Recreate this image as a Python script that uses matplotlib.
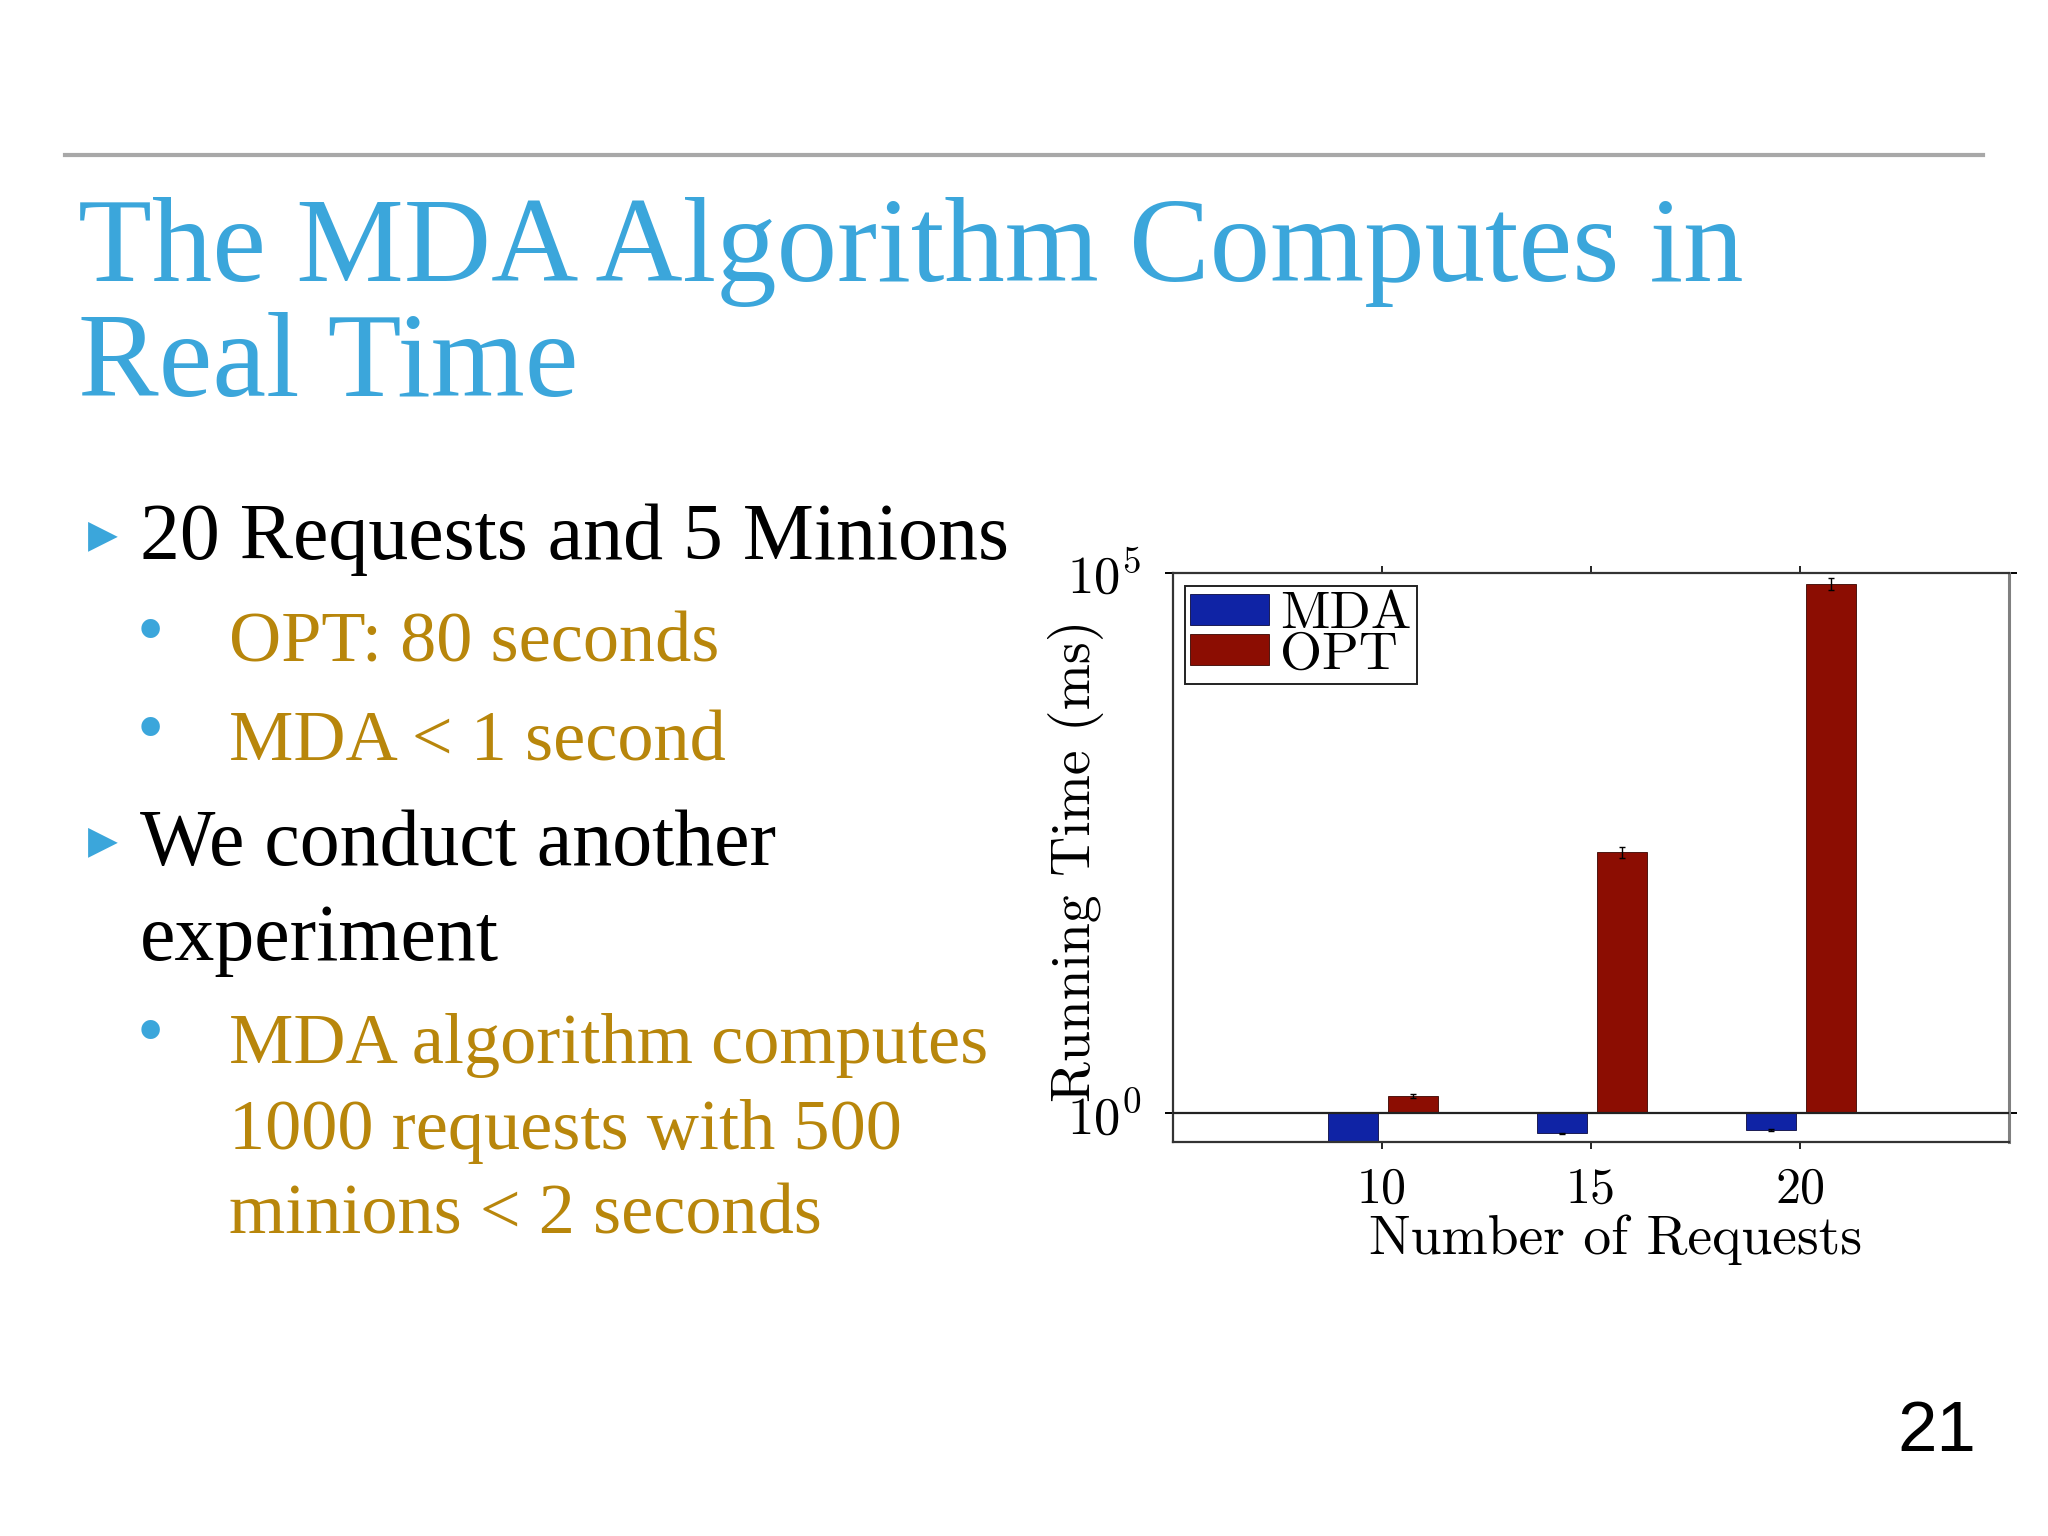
import numpy as np
import matplotlib
matplotlib.use("Agg")
import matplotlib.pyplot as plt
from matplotlib.lines import Line2D
from matplotlib.ticker import FixedLocator, NullLocator, FuncFormatter


# chart data (running time in ms)
requests = [10, 15, 20]
mda_time = [0.5, 0.65, 0.70]
mda_err = [0.0, 0.01, 0.01]
opt_time = [1.44, 261, 79000]
opt_err = [0.05, 29, 10000]
series_names = ["MDA", "OPT"]

# slide text
title_lines = ["The MDA Algorithm Computes in", "Real Time"]
bullets = [
    # (level, text, baseline y in px)
    (1, "20 Requests and 5 Minions", 559),
    (2, "OPT: 80 seconds", 662),
    (2, "MDA < 1 second", 760),
    (1, "We conduct another", 865),
    (0, "experiment", 960),
    (2, "MDA algorithm computes", 1063),
    (-1, "1000 requests with 500", 1149),
    (-1, "minions < 2 seconds", 1234),
]
page_number = "21"

W, H = 2048, 1536
BLUE = "#3BA6DB"
GOLD = "#B8860B"


def fx(px):
    return px / W


def fy(py):
    return 1 - py / H


plt.rcParams["mathtext.fontset"] = "cm"
plt.rcParams["axes.unicode_minus"] = False

fig = plt.figure(figsize=(20.48, 15.36), dpi=100)
fig.patch.set_facecolor("white")

# header rule
fig.add_artist(Line2D([fx(65), fx(1983)], [fy(155), fy(155)],
                      color="#A8A8A8", lw=3))

# title
for i, line in enumerate(title_lines):
    fig.text(fx(78), fy(281 + i * 115), line, fontsize=87,
             family="Liberation Serif", color=BLUE, va="baseline")

# bullets
for level, text, base in bullets:
    if level == 1:
        fig.text(fx(103), fy(base - 24), "\u25b6", fontsize=28,
                 family="DejaVu Sans", color=BLUE, ha="center", va="center")
        fig.text(fx(140), fy(base), text, fontsize=57.5,
                 family="Liberation Serif", color="black", va="baseline")
    elif level == 0:
        fig.text(fx(140), fy(base), text, fontsize=57.5,
                 family="Liberation Serif", color="black", va="baseline")
    elif level == 2:
        fig.text(fx(150), fy(base - 26), "\u2022", fontsize=56,
                 family="Liberation Serif", color=BLUE, ha="center",
                 va="center")
        fig.text(fx(229), fy(base), text, fontsize=52,
                 family="Liberation Serif", color=GOLD, va="baseline")
    else:
        fig.text(fx(229), fy(base), text, fontsize=52,
                 family="Liberation Serif", color=GOLD, va="baseline")

fig.text(fx(1976), fy(1451), page_number, fontsize=51,
         family="Liberation Sans", color="black", ha="right", va="baseline")

# chart
ax = fig.add_axes([fx(1173), fy(1142), (2009 - 1173) / W, (1142 - 573) / H])

x = np.array(requests, dtype=float)
width = 1.2
mda = np.array(mda_time)
opt = np.array(opt_time)

ax.bar(x - 0.7, mda - 1, bottom=1, width=width, color="#0F23A5",
       edgecolor="#0A0A40", linewidth=0.6, label=series_names[0],
       yerr=mda_err, error_kw=dict(ecolor="black", elinewidth=1, capsize=2.5))
ax.bar(x + 0.75, opt - 1, bottom=1, width=width, color="#8C0D02",
       edgecolor="#3A0500", linewidth=0.6, label=series_names[1],
       yerr=opt_err, error_kw=dict(ecolor="black", elinewidth=1, capsize=2.5))

ax.axhline(1, color="#222222", lw=1.6, zorder=3)

ax.set_yscale("log")
ax.set_ylim(0.54, 1e5)
ax.set_xlim(5, 25)

ax.yaxis.set_major_locator(FixedLocator([1, 1e5]))
ax.yaxis.set_minor_locator(NullLocator())
ax.yaxis.set_major_formatter(
    FuncFormatter(lambda v, pos: r"$10^{%d}$" % round(np.log10(v))))
ax.set_xticks(requests)
ax.set_xticklabels([str(r) for r in requests], family="cmr10")

ax.tick_params(axis="y", which="major", direction="out", length=6,
               width=1.4, labelsize=38, left=True, right=True, pad=17)
ax.tick_params(axis="x", direction="out", length=5, width=1.2,
               labelsize=36, top=True, bottom=True, pad=13)

for side in ["left", "top", "bottom"]:
    ax.spines[side].set_color("#333333")
    ax.spines[side].set_linewidth(1.6)
ax.spines["right"].set_color("#808080")
ax.spines["right"].set_linewidth(2.2)

ax.set_xlabel("Number of Requests", family="cmr10", fontsize=40)
ax.xaxis.set_label_coords(0.529, -0.127)
ax.set_ylabel("Running Time (ms)", family="cmr10", fontsize=40)
ax.yaxis.set_label_coords(-0.083, 0.494)

leg = ax.legend(loc="upper left", bbox_to_anchor=(0.0144, 0.977),
                borderaxespad=0, fancybox=False, framealpha=1,
                edgecolor="#222222", handlelength=1.45, handleheight=0.5,
                handletextpad=0.2, labelspacing=-0.12, borderpad=0.1,
                prop={"family": "cmr10", "size": 39})
leg.get_frame().set_linewidth(1.4)

fig.savefig("out.png", dpi=100, facecolor="white")
